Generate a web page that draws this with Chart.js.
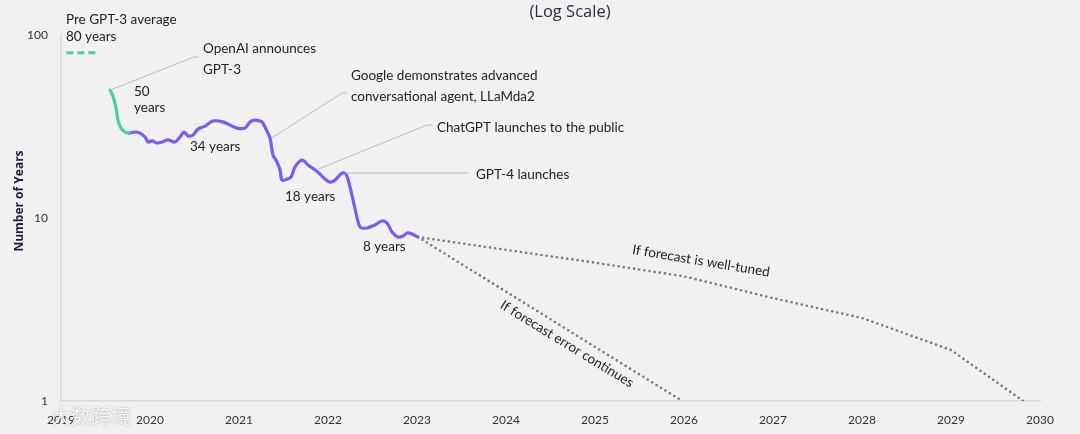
<!DOCTYPE html>
<html>
<head>
<meta charset="utf-8">
<script src="https://cdn.jsdelivr.net/npm/chart.js@4"></script>
<style>
  html, body { margin: 0; padding: 0; background: #f1f1f1; }
  canvas { display: block; }
</style>
</head>
<body>
<canvas id="yearsChart" width="1080" height="434"></canvas>
<script>
// --- data (decimal years / number of years) ---
var yearTicks = [2019, 2020, 2021, 2022, 2023, 2024, 2025, 2026, 2027, 2028, 2029, 2030];
var yTicks = [1, 10, 100];

var preAvgYears = [2019.06, 2019.40];
var preAvgValues = [80, 80];

var greenYears = [2019.551, 2019.584, 2019.618, 2019.640, 2019.674, 2019.719, 2019.764];
var greenValues = [50.0, 46.4, 39.9, 34.3, 31.0, 29.5, 29.1];

var purpleYears = [2019.764, 2019.831, 2019.888, 2019.944, 2019.978, 2020.022, 2020.079, 2020.135, 2020.202, 2020.281,
  2020.337, 2020.382, 2020.427, 2020.483, 2020.539, 2020.618, 2020.708, 2020.820, 2020.899, 2020.978,
  2021.067, 2021.124, 2021.180, 2021.258, 2021.292, 2021.348, 2021.382, 2021.427, 2021.461, 2021.483,
  2021.539, 2021.584, 2021.629, 2021.708, 2021.775, 2021.888, 2021.944, 2022.022, 2022.079, 2022.157,
  2022.202, 2022.247, 2022.303, 2022.360, 2022.438, 2022.528, 2022.607, 2022.663, 2022.719, 2022.787,
  2022.843, 2022.888, 2022.944, 2023.011];
var purpleValues = [29.1, 29.5, 29.1, 27.7, 26.0, 26.4, 25.7, 26.0, 26.7, 26.0,
  27.7, 29.5, 28.1, 28.4, 30.6, 31.8, 33.9, 33.5, 32.2, 31.0,
  31.0, 33.5, 34.3, 33.5, 31.4, 27.4, 22.1, 20.2, 18.3, 16.1,
  16.3, 16.7, 19.0, 20.7, 19.5, 17.8, 16.7, 15.7, 16.1, 17.6,
  17.4, 14.8, 11.3, 8.93, 8.82, 9.16, 9.63, 9.39, 8.38, 7.87,
  7.97, 8.28, 8.18, 7.87];

var tunedYears = [2023.011, 2024, 2025, 2026, 2027, 2028, 2029, 2029.81];
var tunedValues = [7.87, 6.7, 5.7, 4.8, 3.65, 2.84, 1.9, 1.0];

var errorYears = [2023.011, 2025.98];
var errorValues = [7.87, 1.0];

function pts(xs, ys) {
    return xs.map(function(x, i) { return { x: x, y: ys[i] }; });
}

var TEXT = '#232323';
var FONT = "Lato, 'Open Sans', sans-serif";

// annotation index refs into the series
var idxGoogle = 25, idxChatGPT = 35, idxGPT4 = 39;

var annotations = {
    id: 'annotations',
    beforeDraw: function(chart) {
        var c = chart.ctx;
        c.save();
        c.fillStyle = '#f1f1f1';
        c.fillRect(0, 0, chart.width, chart.height);
        c.restore();
    },
    afterDatasetsDraw: function(chart) {
        var c = chart.ctx, xs = chart.scales.x, ys = chart.scales.y;
        function px(x) { return xs.getPixelForValue(x); }
        function py(y) { return ys.getPixelForValue(y); }

        c.save();
        // leader lines
        c.strokeStyle = '#bdbdbd';
        c.lineWidth = 1;
        function leader(x0, y0, pts2) {
            c.beginPath();
            c.moveTo(x0, y0);
            pts2.forEach(function(p) { c.lineTo(p[0], p[1]); });
            c.stroke();
        }
        leader(px(greenYears[0]), py(greenValues[0]), [[194, 57], [199, 57]]);
        leader(px(purpleYears[idxGoogle]) + 2, py(purpleValues[idxGoogle]), [[342, 93], [347, 93]]);
        leader(px(purpleYears[idxChatGPT]), py(purpleValues[idxChatGPT]) - 3, [[427, 125], [432, 125]]);
        leader(px(purpleYears[idxGPT4]) + 3, py(purpleValues[idxGPT4]), [[468, 173]]);

        // texts
        c.fillStyle = TEXT;
        c.textBaseline = 'middle';
        c.textAlign = 'left';
        c.font = '13.5px ' + FONT;
        [
            ['Pre GPT-3 average', 66, 20], ['80 years', 66, 37],
            ['OpenAI announces', 203, 49], ['GPT-3', 203, 70],
            ['50', 134, 92], ['years', 134, 108],
            ['Google demonstrates advanced', 351, 76], ['conversational agent, LLaMda2', 351, 97],
            ['ChatGPT launches to the public', 437, 128],
            ['GPT-4 launches', 476, 175],
            ['34 years', 190, 147], ['18 years', 285, 197], ['8 years', 363, 247]
        ].forEach(function(t) { c.fillText(t[0], t[1], t[2]); });

        // rotated forecast labels
        c.textAlign = 'center';
        c.save();
        c.translate(701, 261);
        c.rotate(9.5 * Math.PI / 180);
        c.fillText('If forecast is well-tuned', 0, 0);
        c.restore();
        c.save();
        c.translate(567, 344);
        c.rotate(31.5 * Math.PI / 180);
        c.fillText('If forecast error continues', 0, 0);
        c.restore();

        // partial title at top
        c.font = "16.5px 'Open Sans', sans-serif";
        c.fillStyle = '#2a2d45';
        c.fillText('(Log Scale)', 570, 12);

        // y axis title
        c.save();
        c.translate(20, 201);
        c.rotate(-Math.PI / 2);
        c.font = "bold 12px 'Open Sans', sans-serif";
        c.fillStyle = '#1b1d3a';
        c.fillText('Number of Years', 0, 0);
        c.restore();

        // watermark
        c.font = "20px 'Noto Sans CJK SC', sans-serif";
        c.textAlign = 'left';
        c.shadowColor = 'rgba(0,0,0,0.4)';
        c.shadowBlur = 2;
        c.fillStyle = 'rgba(255,255,255,0.9)';
        c.fillText('大数跨境', 51, 416);
        c.restore();
    }
};

new Chart(document.getElementById('yearsChart').getContext('2d'), {
    type: 'line',
    data: {
        datasets: [
            {
                label: 'If forecast is well-tuned',
                data: pts(tunedYears, tunedValues),
                borderColor: '#777',
                borderWidth: 2.6,
                borderDash: [0, 5.2],
                borderCapStyle: 'round',
                pointRadius: 0,
                tension: 0
            },
            {
                label: 'If forecast error continues',
                data: pts(errorYears, errorValues),
                borderColor: '#777',
                borderWidth: 2.6,
                borderDash: [0, 5.2],
                borderCapStyle: 'round',
                pointRadius: 0,
                tension: 0
            },
            {
                label: 'Pre GPT-3 average',
                data: pts(preAvgYears, preAvgValues),
                borderColor: '#46d39a',
                borderWidth: 3,
                borderDash: [7, 4],
                pointRadius: 0
            },
            {
                label: 'GPT-3 drop',
                data: pts(greenYears, greenValues),
                borderColor: '#46d39a',
                borderWidth: 3.2,
                pointRadius: 0,
                tension: 0.3,
                borderCapStyle: 'round'
            },
            {
                label: 'Forecast',
                data: pts(purpleYears, purpleValues),
                borderColor: '#7a5cf2',
                borderWidth: 3.2,
                pointRadius: 0,
                tension: 0.3,
                borderCapStyle: 'round',
                borderJoinStyle: 'round'
            }
        ]
    },
    options: {
        responsive: false,
        animation: false,
        devicePixelRatio: 1,
        layout: { padding: { top: 35, right: 40, left: 0, bottom: 0 } },
        plugins: { legend: { display: false }, tooltip: { enabled: false } },
        scales: {
            x: {
                type: 'linear',
                min: 2019,
                max: 2030,
                grid: { display: false, drawTicks: false },
                border: { color: '#dadada', width: 1.5 },
                ticks: {
                    padding: 12,
                    color: '#333',
                    font: { size: 12, family: FONT },
                    callback: function(v) { return String(v); }
                },
                afterBuildTicks: function(s) { s.ticks = yearTicks.map(function(v) { return { value: v }; }); },
                afterFit: function(s) { s.height = 33; }
            },
            y: {
                type: 'logarithmic',
                min: 1,
                max: 100,
                grid: { display: false, drawTicks: false },
                border: { color: '#dadada', width: 1.5 },
                ticks: {
                    padding: 13,
                    color: '#333',
                    font: { size: 12, family: FONT },
                    callback: function(v) { return String(v); }
                },
                afterBuildTicks: function(s) { s.ticks = yTicks.map(function(v) { return { value: v }; }); },
                afterFit: function(s) { s.width = 61; }
            }
        }
    },
    plugins: [annotations]
});
</script>
</body>
</html>
